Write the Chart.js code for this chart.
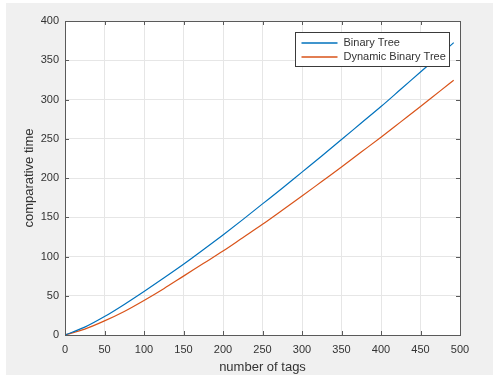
<!DOCTYPE html>
<html>
<head>
<meta charset="utf-8">
<script src="https://cdn.jsdelivr.net/npm/chart.js@4/dist/chart.umd.min.js"></script>
<style>
  html, body { margin: 0; padding: 0; background: #fff; }
  #fig {
    position: absolute; left: 6px; top: 3px;
    width: 487px; height: 372px; background: #f0f0f0;
  }
  #fig canvas { display: block; }
</style>
</head>
<body>
<div id="fig"><canvas id="plot" width="487" height="372"></canvas></div>
<script>
// number of tags (x) and comparative time for each method
const tags = [0, 25, 50, 75, 100, 125, 150, 175, 200, 225, 250, 275, 300, 325, 350, 375, 400, 425, 450, 475, 492];
const binaryTree = [0, 10, 23.5, 39, 55.5, 72.5, 90, 108.5, 127.5, 147, 167, 187, 207.5, 228, 249, 270, 291, 313, 335, 357, 372.5];
const dynamicBinaryTree = [0, 7.5, 18, 30, 44, 59, 75, 91, 107, 124, 141, 159, 177, 195.5, 214, 233, 252, 271.5, 291, 311, 324.5];

const xTicks = [0, 50, 100, 150, 200, 250, 300, 350, 400, 450, 500];
const yTicks = [0, 50, 100, 150, 200, 250, 300, 350, 400];

const seriesNames = ['Binary Tree', 'Dynamic Binary Tree'];
const seriesColors = ['#0072BD', '#D95319'];

const FONT = "'Liberation Sans', Arial, Helvetica, sans-serif";
const TEXT = '#333333';
const AXIS = '#5a5a5a';

// white plot area, box round the axes, inward ticks on all four sides, legend
const matlabAxes = {
  id: 'matlabAxes',
  beforeDraw(chart) {
    const { ctx, chartArea: a } = chart;
    ctx.save();
    ctx.fillStyle = '#ffffff';
    ctx.fillRect(a.left, a.top, a.right - a.left, a.bottom - a.top);
    ctx.restore();
  },
  afterDraw(chart) {
    const { ctx, chartArea: a, scales } = chart;
    const len = 4;
    ctx.save();
    ctx.strokeStyle = AXIS;
    ctx.lineWidth = 1;
    ctx.beginPath();
    xTicks.forEach((v) => {
      const px = Math.round(scales.x.getPixelForValue(v)) + 0.5;
      ctx.moveTo(px, a.bottom); ctx.lineTo(px, a.bottom - len);
      ctx.moveTo(px, a.top); ctx.lineTo(px, a.top + len);
    });
    yTicks.forEach((v) => {
      const py = Math.round(scales.y.getPixelForValue(v)) + 0.5;
      ctx.moveTo(a.left, py); ctx.lineTo(a.left + len, py);
      ctx.moveTo(a.right, py); ctx.lineTo(a.right - len, py);
    });
    ctx.stroke();
    ctx.strokeRect(Math.round(a.left) + 0.5, Math.round(a.top) + 0.5,
      Math.round(a.right - a.left), Math.round(a.bottom - a.top));

    // legend
    const lx = 289.5, ly = 29.5, lw = 154, lh = 34;
    ctx.fillStyle = '#ffffff';
    ctx.fillRect(lx, ly, lw, lh);
    ctx.strokeStyle = '#3a3a3a';
    ctx.strokeRect(lx, ly, lw, lh);
    ctx.font = `11px ${FONT}`;
    ctx.textBaseline = 'middle';
    seriesNames.forEach((name, i) => {
      const y = ly + 10.5 + i * 14;
      ctx.strokeStyle = seriesColors[i];
      ctx.lineWidth = 1.3;
      ctx.beginPath();
      ctx.moveTo(lx + 6, y); ctx.lineTo(lx + 42, y);
      ctx.stroke();
      ctx.fillStyle = TEXT;
      ctx.fillText(name, lx + 48, y);
    });
    ctx.restore();
  },
};

const toPoints = (ys) => tags.map((x, i) => ({ x, y: ys[i] }));

new Chart(document.getElementById('plot'), {
  type: 'line',
  data: {
    datasets: [
      {
        label: seriesNames[0],
        data: toPoints(binaryTree),
        borderColor: seriesColors[0],
        borderWidth: 1.2,
        pointRadius: 0,
        cubicInterpolationMode: 'monotone',
      },
      {
        label: seriesNames[1],
        data: toPoints(dynamicBinaryTree),
        borderColor: seriesColors[1],
        borderWidth: 1.2,
        pointRadius: 0,
        cubicInterpolationMode: 'monotone',
      },
    ],
  },
  options: {
    responsive: false,
    animation: false,
    events: [],
    layout: { padding: { top: 18, right: 33, left: 0, bottom: 0 } },
    plugins: { legend: { display: false }, tooltip: { enabled: false } },
    scales: {
      x: {
        type: 'linear',
        min: 0,
        max: 500,
        afterBuildTicks: (s) => { s.ticks = xTicks.map((v) => ({ value: v })); },
        afterFit: (s) => { s.height = 40; },
        grid: { color: '#e6e6e6', drawTicks: false },
        border: { display: false },
        ticks: { color: TEXT, font: { family: FONT, size: 11 }, padding: 8, maxRotation: 0 },
        title: {
          display: true,
          text: 'number of tags',
          color: TEXT,
          font: { family: FONT, size: 13 },
          padding: { top: 0, bottom: 0 },
        },
      },
      y: {
        min: 0,
        max: 400,
        afterBuildTicks: (s) => { s.ticks = yTicks.map((v) => ({ value: v })); },
        afterFit: (s) => { s.width = 59; },
        grid: { color: '#e6e6e6', drawTicks: false },
        border: { display: false },
        ticks: { color: TEXT, font: { family: FONT, size: 11 }, padding: 6 },
        title: {
          display: true,
          text: 'comparative time',
          color: TEXT,
          font: { family: FONT, size: 13 },
          padding: { top: 16, bottom: 0 },
        },
      },
    },
  },
  plugins: [matlabAxes],
});
</script>
</body>
</html>
